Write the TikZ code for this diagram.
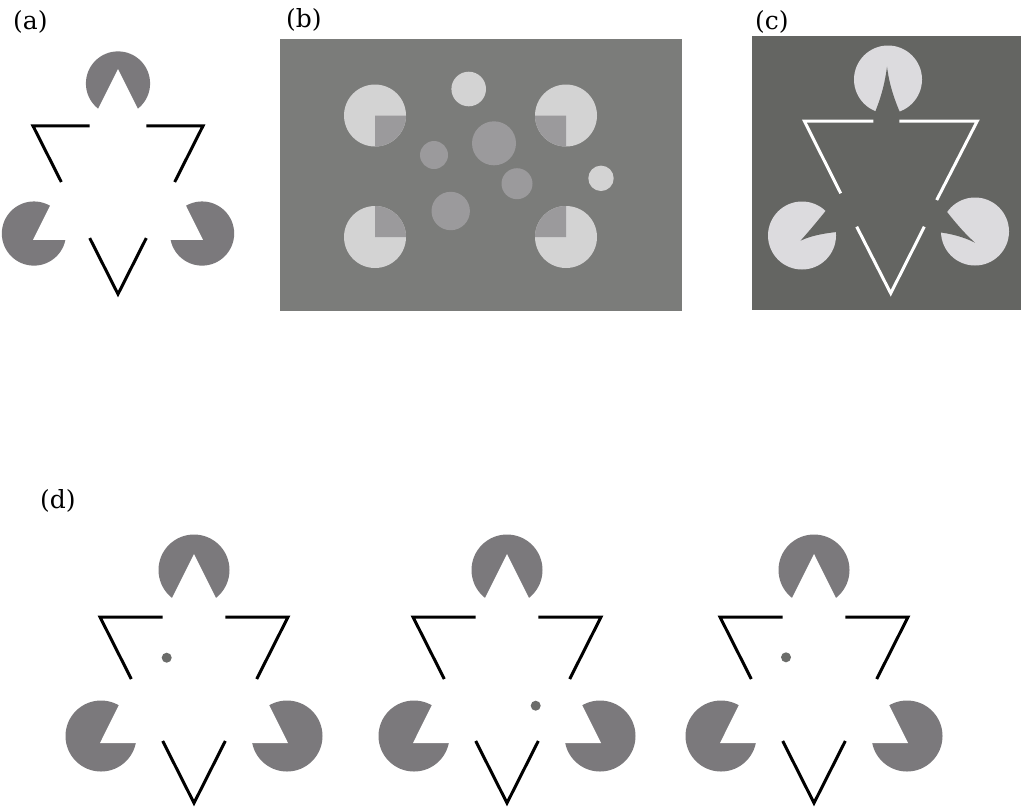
\documentclass[tikz,border=0pt]{standalone}
\usepackage{fontspec}
\setmainfont{DejaVu Serif}
\usepackage{tikz}

\definecolor{pacgray}{HTML}{7B797C}
\definecolor{panelb}{HTML}{7B7C7A}
\definecolor{pielight}{HTML}{D3D3D3}
\definecolor{piedark}{HTML}{9B9A9C}
\definecolor{panelc}{HTML}{646562}
\definecolor{paclight}{HTML}{DCDBDE}
\definecolor{dotgray}{HTML}{6B6C6A}

\begin{document}
\begin{tikzpicture}[x=1pt, y=-1pt,
    panellabel/.style={anchor=west, inner sep=0pt, font=\fontsize{25}{30}\selectfont},
    edgeline/.style={line width=3pt},
    pics/kanizsa/.style={code={
        \fill[pacgray] (0,-109) circle[radius=35.5] (-93,57) circle[radius=35.5] (93,57) circle[radius=35.5];
        \fill[white] (0,-125) -- (-42.3,-40) -- (42.3,-40) -- cycle;
        \fill[white] (-94,64) -- (-51.7,-21) -- (-9.4,64) -- cycle;
        \fill[white] (94,64) -- (51.7,-21) -- (9.4,64) -- cycle;
        \draw[edgeline] (-31.3,-62) -- (-94,-62) -- (-62.7,0);
        \draw[edgeline] (31.3,-62) -- (94,-62) -- (62.7,0);
        \draw[edgeline] (-31.3,62) -- (0,124) -- (31.3,62);
    }}]
    \fill[white] (0,0) rectangle (1024,807);
    \useasboundingbox (0,0) rectangle (1024,807);

    \node[panellabel] (la) at (13,21.5) {(a)};
    \pic[scale=0.904] at (118,182) {kanizsa};

    \node[panellabel] (lb) at (286,20) {(b)};
    \fill[panelb] (280,39) rectangle (682,311);
    \fill[pielight] (375,115.5) circle[radius=31] (566,115.5) circle[radius=31] (375,237) circle[radius=31] (566,237) circle[radius=31];
    \fill[piedark] (375,115.5) -- ++(0:31) arc[start angle=0, end angle=90, radius=31] -- cycle;
    \fill[piedark] (566,115.5) -- ++(90:31) arc[start angle=90, end angle=180, radius=31] -- cycle;
    \fill[piedark] (375,237) -- ++(-90:31) arc[start angle=-90, end angle=0, radius=31] -- cycle;
    \fill[piedark] (566,237) -- ++(180:31) arc[start angle=180, end angle=270, radius=31] -- cycle;
    \fill[pielight] (468.7,89) circle[radius=17.3] (601,178.3) circle[radius=12.7];
    \fill[piedark] (494,143.3) circle[radius=22] (434,155) circle[radius=14] (517,183.7) circle[radius=15.5] (450.7,211) circle[radius=19.2];

    \node[panellabel] (lc) at (755,21.5) {(c)};
    \fill[panelc] (752,36) rectangle (1021,310);
    \fill[paclight] (888,79.5) circle[radius=34] (802,235.5) circle[radius=34] (975,231.5) circle[radius=34];
    \fill[panelc] (887,66.7) .. controls (884,90) and (878,106) .. (870,124) -- (905,124) .. controls (897,106) and (890,90) .. (887,66.7) -- cycle;
    \fill[panelc] (800.5,240.7) .. controls (811,229) and (820,218) .. (832,203) -- (850,231) .. controls (830,232) and (812,235) .. (800.5,240.7) -- cycle;
    \fill[panelc] (975,242.7) .. controls (963,232) and (954,221) .. (940,203) -- (926,231) .. controls (945,232) and (962,236) .. (975,242.7) -- cycle;
    \draw[edgeline, white] (873.3,121) -- (804.3,121) -- (840.7,193.3);
    \draw[edgeline, white] (899.3,121) -- (977.3,121) -- (936.7,200);
    \draw[edgeline, white] (856.7,226.7) -- (890.7,293.3) -- (924.3,226.7);

    \node[panellabel] (ld) at (40,501) {(d)};
    \pic at (194,679) {kanizsa};
    \pic at (507,679) {kanizsa};
    \pic at (814,679) {kanizsa};
    \fill[dotgray] (166.7,657.7) circle[radius=5] (535.7,705.7) circle[radius=5] (786,657.3) circle[radius=5];
\end{tikzpicture}
\end{document}
